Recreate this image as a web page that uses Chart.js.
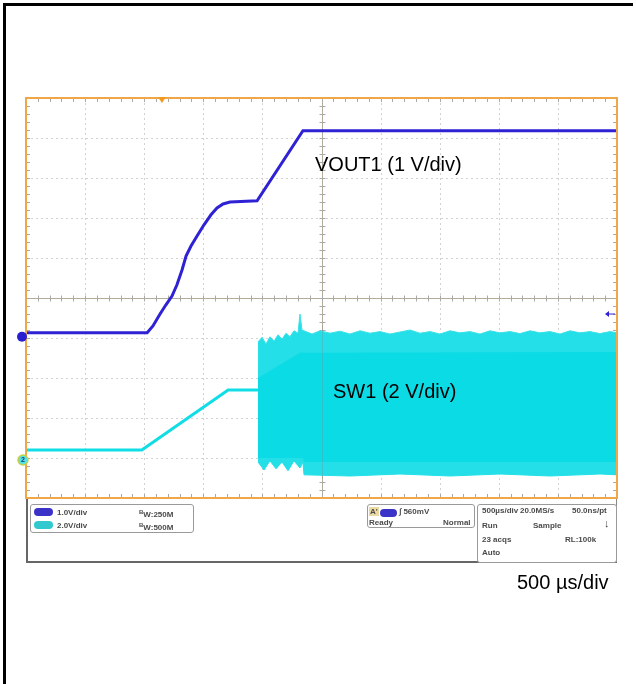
<!DOCTYPE html>
<html>
<head>
<meta charset="utf-8">
<script src="https://cdn.jsdelivr.net/npm/chart.js@4.4.0/dist/chart.umd.min.js"></script>
<style>
  body { margin: 0; background: #fff; font-family: Arial, "Liberation Sans", sans-serif; }
  #wrap { position: relative; width: 636px; height: 684px; overflow: hidden; }
  #chartBox { position: absolute; left: 0; top: 0; width: 636px; height: 684px; }
  #frame { position: absolute; left: 3px; top: 3px; width: 627px; height: 700px; border-top: 3px solid #000; border-left: 3px solid #000; }
  .lbl { position: absolute; font-size: 20px; line-height: 20px; color: #000; white-space: nowrap; }
  .sb { position: absolute; font-size: 8px; font-weight: bold; line-height: 9px; color: #4a4a4a; white-space: nowrap; }
  .box { position: absolute; box-sizing: border-box; border: 1px solid #9a9a9a; border-radius: 3px; background: #fff; }
  .pill { position: absolute; width: 19px; height: 8px; border-radius: 5px; }
</style>
</head>
<body>
<div id="wrap">
  <div id="frame"></div>
  <div id="chartBox"><canvas id="scopeChart"></canvas></div>

  <div class="lbl" style="left:315px; top:154px;">VOUT1 (1 V/div)</div>
  <div class="lbl" style="left:333px; top:381px;">SW1 (2 V/div)</div>
  <div class="lbl" style="left:517px; top:572px;">500 µs/div</div>

  <!-- scope status bar -->
  <div style="position:absolute; left:26px; top:499px; width:591px; height:64px; box-sizing:border-box; border:1px solid #888; border-left:2px solid #666; border-bottom:2px solid #666; border-top:none;"></div>
  <div class="box" style="left:30px; top:504px; width:164px; height:29px;"></div>
  <div class="pill" style="left:34px; top:508px; background:#3b33c8;"></div>
  <div class="sb" style="left:57px; top:508px;">1.0V/div</div>
  <div class="sb" style="left:139px; top:508px;"><span style="font-size:6px; vertical-align:3px;">B</span>W:250M</div>
  <div class="pill" style="left:34px; top:521px; background:#2fc9cf;"></div>
  <div class="sb" style="left:57px; top:521px;">2.0V/div</div>
  <div class="sb" style="left:139px; top:521px;"><span style="font-size:6px; vertical-align:3px;">B</span>W:500M</div>

  <div class="box" style="left:367px; top:504px; width:108px; height:24px;"></div>
  <div class="sb" style="left:369px; top:507px; background:#ead9a0; padding:0 1px;">A'</div>
  <div class="pill" style="left:380px; top:509px; width:17px; background:#3b33c8;"></div>
  <div class="sb" style="left:399px; top:507px;">∫ 560mV</div>
  <div class="sb" style="left:369px; top:518px;">Ready</div>
  <div class="sb" style="left:443px; top:518px;">Normal</div>

  <div class="box" style="left:477px; top:504px; width:140px; height:59px;"></div>
  <div class="sb" style="left:482px; top:506px;">500µs/div</div>
  <div class="sb" style="left:520px; top:506px;">20.0MS/s</div>
  <div class="sb" style="left:572px; top:506px;">50.0ns/pt</div>
  <div class="sb" style="left:482px; top:521px;">Run</div>
  <div class="sb" style="left:533px; top:521px;">Sample</div>
  <div class="sb" style="left:604px; top:519px; font-size:11px;">↓</div>
  <div class="sb" style="left:482px; top:535px;">23 acqs</div>
  <div class="sb" style="left:565px; top:535px;">RL:100k</div>
  <div class="sb" style="left:482px; top:548px;">Auto</div>
</div>

<script>
// time axis in µs (500 µs/div, 10 divisions), vertical axis in screen divisions (0..10)

// VOUT1 trace
const voutTime = [0, 1025, 1074, 1134, 1184, 1235, 1277, 1320, 1354, 1396, 1447, 1506, 1565, 1616, 1667, 1726, 1955, 2343, 5000];
const voutDiv  = [4.13, 4.13, 4.30, 4.60, 4.83, 5.05, 5.33, 5.70, 6.05, 6.30, 6.55, 6.83, 7.08, 7.25, 7.35, 7.40, 7.43, 9.18, 9.18];

// SW1 before switching starts
const swTime = [0, 980, 1710, 1965];
const swDiv  = [1.2, 1.2, 2.7, 2.7];

// SW1 switching envelope (outer, incl. ringing fuzz)
const swTopTime = [1963, 1997, 2030, 2064, 2098, 2132, 2166, 2200, 2233, 2267, 2301, 2318, 2335, 2369, 2420,
  2487, 2572, 2656, 2741, 2826, 2910, 2995, 3079, 3164, 3249, 3333, 3418, 3502, 3587, 3672, 3756, 3841,
  3925, 4010, 4095, 4179, 4264, 4348, 4433, 4518, 4602, 4687, 4771, 4856, 4941, 5000];
const swTopDiv = [3.90, 4.02, 3.85, 4.03, 3.92, 4.08, 3.97, 4.12, 4.03, 4.18, 4.12, 4.6, 4.2, 4.16, 4.1,
  4.18, 4.12, 4.17, 4.1, 4.18, 4.12, 4.16, 4.1, 4.15, 4.2, 4.12, 4.16, 4.1, 4.18, 4.13, 4.16, 4.1,
  4.18, 4.13, 4.16, 4.11, 4.18, 4.13, 4.16, 4.1, 4.18, 4.13, 4.16, 4.11, 4.16, 4.13];
const swBotTime = [1963, 2014, 2064, 2115, 2166, 2217, 2267, 2318, 2343, 2352, 2741, 3164, 3587, 4010, 4433, 4856, 5000];
const swBotDiv  = [0.9, 0.7, 0.93, 0.73, 0.9, 0.68, 0.93, 0.75, 0.9, 0.58, 0.55, 0.6, 0.55, 0.6, 0.55, 0.6, 0.58];

// SW1 solid core of the switching band
const coreTopTime = [1963, 2318, 5000];
const coreTopDiv  = [3.0, 3.63, 3.65];
const coreBotTime = [1963, 2343, 2352, 5000];
const coreBotDiv  = [1.0, 1.0, 0.9, 0.9];

// markers
const ch1Ground = 4.03;
const ch2Ground = 0.95;
const triggerTime = 1150;
const triggerLevel = 4.6;

const pts = (ts, ys) => ts.map((t, i) => ({ x: t, y: ys[i] }));

const BLUE = '#2f22d4';
const CYAN = '#10dde5';

const scopeGrid = {
    id: 'scopeGrid',
    beforeDatasetsDraw(chart) {
        const { ctx, chartArea: a, scales: { x, y } } = chart;
        const cx = Math.round(x.getPixelForValue(2500)) + 0.5;
        const cy = Math.round(y.getPixelForValue(5)) + 0.5;
        ctx.save();
        ctx.lineWidth = 1;
        // dotted division lines
        ctx.strokeStyle = '#d2d2d2';
        ctx.setLineDash([2, 3]);
        ctx.beginPath();
        for (let i = 1; i < 10; i++) {
            if (i === 5) continue;
            const px = Math.round(x.getPixelForValue(i * 500)) + 0.5;
            ctx.moveTo(px, a.top); ctx.lineTo(px, a.bottom);
            const py = Math.round(y.getPixelForValue(i)) + 0.5;
            ctx.moveTo(a.left, py); ctx.lineTo(a.right, py);
        }
        ctx.stroke();
        ctx.setLineDash([]);
        // centre cross
        ctx.strokeStyle = '#b2ac98';
        ctx.beginPath();
        ctx.moveTo(cx, a.top); ctx.lineTo(cx, a.bottom);
        ctx.moveTo(a.left, cy); ctx.lineTo(a.right, cy);
        ctx.stroke();
        // minor ticks (5 per division)
        ctx.strokeStyle = '#a9a9a9';
        ctx.beginPath();
        for (let v = 100; v < 5000; v += 100) {
            const px = Math.round(x.getPixelForValue(v)) + 0.5;
            ctx.moveTo(px, a.top); ctx.lineTo(px, a.top + 4);
            ctx.moveTo(px, a.bottom); ctx.lineTo(px, a.bottom - 4);
            ctx.moveTo(px, cy - 3); ctx.lineTo(px, cy + 3);
        }
        for (let k = 1; k < 50; k++) {
            const py = Math.round(y.getPixelForValue(k * 0.2)) + 0.5;
            ctx.moveTo(a.left, py); ctx.lineTo(a.left + 4, py);
            ctx.moveTo(a.right, py); ctx.lineTo(a.right - 4, py);
            ctx.moveTo(cx - 3, py); ctx.lineTo(cx + 3, py);
        }
        ctx.stroke();
        ctx.restore();
    },
    afterDatasetsDraw(chart) {
        const { ctx, chartArea: a, scales: { x, y } } = chart;
        ctx.save();
        // faint centre line showing through the switching band
        ctx.strokeStyle = 'rgba(120,140,140,0.3)';
        ctx.lineWidth = 1;
        const cx = Math.round(x.getPixelForValue(2500)) + 0.5;
        ctx.beginPath();
        ctx.moveTo(cx, y.getPixelForValue(4.3)); ctx.lineTo(cx, y.getPixelForValue(0.5));
        ctx.stroke();

        // orange graticule frame
        ctx.strokeStyle = '#f0a747';
        ctx.lineWidth = 2;
        ctx.strokeRect(a.left, a.top, a.right - a.left, a.bottom - a.top);

        // trigger position marker
        const tx = x.getPixelForValue(triggerTime);
        ctx.fillStyle = '#f39a1e';
        ctx.beginPath();
        ctx.moveTo(tx - 4, a.top - 1); ctx.lineTo(tx + 4, a.top - 1); ctx.lineTo(tx, a.top + 5);
        ctx.fill();

        // trigger level arrow (right edge)
        const ly = y.getPixelForValue(triggerLevel);
        ctx.strokeStyle = BLUE; ctx.fillStyle = BLUE; ctx.lineWidth = 1;
        ctx.beginPath();
        ctx.moveTo(a.right - 10, ly); ctx.lineTo(a.right - 2, ly);
        ctx.stroke();
        ctx.beginPath();
        ctx.moveTo(a.right - 12, ly); ctx.lineTo(a.right - 8, ly - 3); ctx.lineTo(a.right - 8, ly + 3);
        ctx.fill();

        // channel 1 ground marker
        const g1 = y.getPixelForValue(ch1Ground);
        ctx.fillStyle = '#2a1fd0';
        ctx.beginPath(); ctx.arc(a.left - 4, g1, 5, 0, Math.PI * 2); ctx.fill();

        // channel 2 ground marker
        const g2 = y.getPixelForValue(ch2Ground);
        ctx.fillStyle = '#52e3ea';
        ctx.strokeStyle = '#c9cf45';
        ctx.lineWidth = 1.5;
        ctx.beginPath(); ctx.arc(a.left - 3, g2, 5, 0, Math.PI * 2); ctx.fill(); ctx.stroke();
        ctx.fillStyle = '#1d3f6a';
        ctx.font = 'bold 7px Arial';
        ctx.textAlign = 'center'; ctx.textBaseline = 'middle';
        ctx.fillText('2', a.left - 3, g2 + 0.5);
        ctx.restore();
    }
};

const scopeChart = new Chart(document.getElementById('scopeChart'), {
    type: 'line',
    data: {
        datasets: [
            { data: pts(swBotTime, swBotDiv), borderColor: '#22dfe7', borderWidth: 1, fill: false, order: 6 },
            { data: pts(swTopTime, swTopDiv), borderColor: '#3ae1e9', borderWidth: 1, backgroundColor: '#24dfe7', fill: '-1', order: 5 },
            { data: pts(coreBotTime, coreBotDiv), borderWidth: 0, borderColor: 'rgba(0,0,0,0)', fill: false, order: 4 },
            { data: pts(coreTopTime, coreTopDiv), borderWidth: 0, borderColor: 'rgba(0,0,0,0)', backgroundColor: '#0bdbe4', fill: '-1', order: 3 },
            { data: pts(swTime, swDiv), borderColor: CYAN, borderWidth: 3, fill: false, order: 2 },
            { data: pts(voutTime, voutDiv), borderColor: BLUE, borderWidth: 3, fill: false, order: 1 }
        ]
    },
    options: {
        responsive: true,
        maintainAspectRatio: false,
        animation: false,
        layout: { padding: { left: 26, top: 98, right: 19, bottom: 186 } },
        elements: { point: { radius: 0 }, line: { tension: 0 } },
        scales: {
            x: { type: 'linear', min: 0, max: 5000, display: false },
            y: { type: 'linear', min: 0, max: 10, display: false }
        },
        plugins: { legend: { display: false }, tooltip: { enabled: false } }
    },
    plugins: [scopeGrid]
});
</script>
</body>
</html>
